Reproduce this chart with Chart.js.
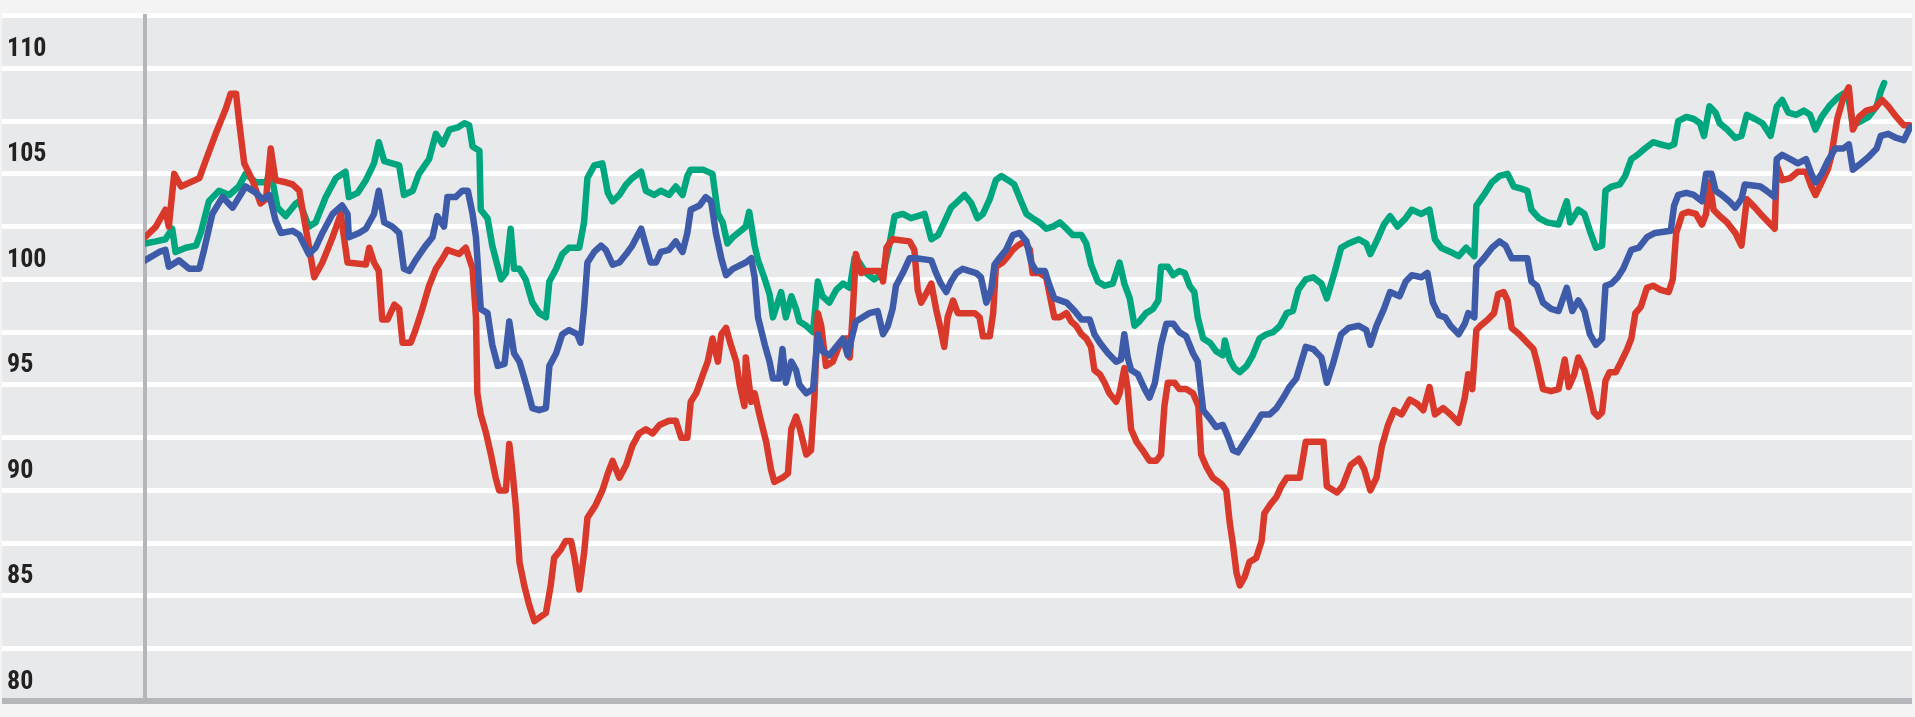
<!DOCTYPE html>
<html>
<head>
<meta charset="utf-8">
<script src="https://cdn.jsdelivr.net/npm/chart.js"></script>
<style>
html, body { margin: 0; padding: 0; background: #f4f4f4; }
canvas { display: block; }
</style>
</head>
<body>
<canvas id="myChart" width="1915" height="717"></canvas>
<script>
// labelled ticks on the value axis (gridlines every 2.5)
const yLabels = [80, 85, 90, 95, 100, 105, 110];

// [trading day, index value]
const redSeries = [
  [0,102.0],[1.6,102.5],[3.0,103.3],[3.5,102.5],[4.3,105.0],[5.3,104.4],[8.0,104.8],[8.9,105.6],[10.4,106.9],[11.9,108.1],
  [12.6,108.8],[13.4,108.8],[13.8,107.6],[14.6,105.5],[15.8,104.7],[17.0,103.6],[17.8,103.8],[18.5,106.2],[19.2,104.7],[20.7,104.6],
  [21.7,104.5],[22.7,104.2],[24.1,101.6],[24.9,100.1],[26.1,100.8],[27.6,102.0],[28.8,103.1],[29.8,100.8],[32.5,100.7],[33.0,101.5],
  [33.7,100.8],[34.4,100.4],[34.9,98.1],[35.7,98.1],[36.7,98.8],[37.4,98.6],[37.9,97.0],[39.1,97.0],[39.8,97.6],[40.8,98.6],
  [41.8,99.7],[42.8,100.5],[43.8,101.0],[44.5,101.4],[46.2,101.2],[47.2,101.5],[48.2,100.5],[48.7,98.2],[48.9,94.6],[49.4,93.6],
  [50.2,92.7],[50.9,91.7],[51.6,90.6],[52.1,90.0],[53.1,90.0],[53.6,92.2],[54.1,90.8],[54.6,89.1],[55.1,86.6],[55.8,85.5],
  [56.5,84.6],[57.3,83.8],[59.0,84.2],[59.7,85.5],[60.2,86.8],[61.2,87.2],[61.9,87.6],[62.7,87.6],[63.2,86.8],[63.9,85.3],
  [64.6,87.0],[65.1,88.7],[66.3,89.3],[67.3,90.0],[68.1,90.8],[68.8,91.4],[69.8,90.6],[70.8,91.2],[71.7,92.1],[72.7,92.7],
  [73.7,92.9],[74.7,92.7],[75.7,93.1],[77.1,93.3],[78.1,93.3],[78.9,92.5],[79.8,92.5],[80.3,94.2],[81.1,94.6],[82.1,95.5],
  [82.8,96.1],[83.5,97.2],[84.3,96.1],[84.8,97.4],[85.5,97.7],[86.2,96.9],[87.0,96.1],[87.5,95.0],[88.2,94.0],[88.4,96.3],
  [89.2,94.2],[89.7,94.6],[90.4,93.6],[91.4,92.3],[92.1,91.0],[92.6,90.4],[93.8,90.6],[94.6,90.8],[95.1,92.9],[95.8,93.5],
  [96.3,93.0],[97.3,91.7],[98.0,91.9],[98.5,94.4],[99.0,98.4],[99.5,97.8],[100.2,95.9],[101.2,96.1],[102.2,96.9],[103.2,97.2],
  [103.7,96.3],[104.1,98.2],[104.6,101.2],[105.4,100.3],[106.1,100.4],[108.1,100.4],[108.6,99.9],[109.1,101.5],[110.0,101.9],[112.5,101.8],
  [113.2,101.4],[113.7,99.5],[114.2,98.9],[114.9,99.3],[115.7,99.8],[116.4,98.6],[117.1,97.6],[117.6,96.8],[118.1,98.2],[118.9,99.0],
  [119.6,98.4],[122.1,98.4],[122.8,98.2],[123.3,97.3],[124.3,97.3],[124.8,98.4],[125.2,100.6],[126.2,100.8],[127.0,101.1],[127.7,101.4],
  [128.4,101.6],[129.4,101.8],[130.2,101.4],[130.6,100.3],[131.6,100.3],[132.6,100.1],[133.1,99.3],[133.8,98.2],[134.6,98.2],[135.6,98.4],
  [136.3,98.0],[137.0,97.8],[137.8,97.4],[138.5,97.2],[139.2,96.8],[139.7,95.7],[140.5,95.5],[141.2,95.1],[141.9,94.6],[142.9,94.2],
  [143.4,94.6],[144.1,95.8],[144.6,94.8],[145.1,92.9],[145.9,92.3],[146.8,91.9],[147.8,91.4],[148.8,91.4],[149.5,91.7],[150.0,94.0],
  [150.5,95.1],[151.5,95.1],[152.2,94.8],[153.2,94.8],[154.2,94.6],[155.0,94.0],[155.4,91.7],[156.2,91.1],[157.1,90.6],[158.4,90.3],
  [159.1,90.0],[159.6,88.5],[160.1,87.4],[160.6,86.1],[161.1,85.5],[161.8,85.9],[162.5,86.6],[163.5,86.8],[164.3,87.6],[164.7,88.9],
  [165.5,89.3],[166.5,89.7],[167.2,90.2],[168.0,90.6],[168.9,90.6],[169.9,90.6],[170.8,92.3],[173.4,92.3],[173.9,90.2],[175.4,89.9],
  [176.2,90.2],[177.4,91.2],[178.6,91.5],[179.4,91.0],[180.3,90.0],[181.2,90.6],[182.0,92.1],[182.9,93.1],[183.8,93.8],[184.9,93.6],
  [186.1,94.3],[187.2,94.1],[188.1,93.8],[189.0,94.9],[189.8,93.6],[191.0,93.9],[192.1,93.6],[193.3,93.2],[194.2,94.4],[194.7,95.5],
  [195.3,94.8],[195.9,97.6],[196.5,97.8],[197.6,98.1],[198.5,98.4],[199.1,99.3],[199.9,99.4],[200.5,99.0],[201.1,97.7],[202.2,97.4],
  [203.4,97.0],[204.3,96.7],[204.8,96.1],[205.7,94.8],[206.9,94.7],[208.0,94.8],[208.9,96.2],[209.5,94.9],[210.3,95.5],[210.9,96.3],
  [211.8,95.7],[212.6,94.6],[213.2,93.7],[213.8,93.5],[214.4,93.7],[214.9,95.2],[215.5,95.6],[216.4,95.6],[217.2,96.1],[218.1,96.7],
  [218.7,97.2],[219.3,98.4],[220.1,98.7],[221.0,99.6],[221.9,99.7],[223.0,99.5],[224.2,99.4],[224.8,100.0],[225.3,102.2],[226.2,103.1],
  [227.1,103.2],[228.2,103.1],[229.1,102.6],[229.7,103.1],[230.2,104.6],[230.8,103.3],[231.7,103.0],[232.8,102.7],[234.0,102.2],[234.9,101.6],
  [235.7,103.8],[236.9,103.4],[238.0,103.0],[239.2,102.6],[239.8,102.4],[240.1,105.4],[240.9,104.7],[242.1,104.8],[243.2,105.1],[244.4,105.1],
  [245.2,104.4],[245.8,104.0],[246.7,104.6],[247.6,105.2],[248.1,105.8],[249.0,107.6],[249.9,108.6],[250.7,109.1],[251.3,107.1],[252.2,107.7],
  [253.3,108.0],[254.5,108.1],[255.6,108.5],[256.5,108.2],[257.7,107.7],[258.8,107.3],[259.7,107.3]
];

const blueSeries = [
  [0,100.9],[2.1,101.3],[3.0,101.4],[3.5,100.6],[5.0,100.9],[6.5,100.5],[8.0,100.5],[8.7,101.4],[9.9,103.1],[11.4,103.9],
  [12.9,103.4],[14.8,104.4],[16.3,104.1],[17.3,103.8],[18.3,104.0],[19.2,102.8],[20.0,102.2],[21.7,102.3],[22.7,102.1],[24.1,101.2],
  [25.1,101.5],[26.1,102.2],[27.6,103.1],[29.0,103.5],[29.8,103.1],[30.0,102.0],[31.5,102.2],[32.5,102.4],[33.7,103.1],[34.4,104.2],
  [35.2,102.7],[36.4,102.5],[37.4,102.2],[38.1,100.5],[38.9,100.4],[39.8,100.9],[41.3,101.6],[42.3,102.0],[43.0,103.0],[44.0,102.5],
  [44.5,103.9],[45.7,103.9],[46.7,104.2],[47.5,104.2],[48.2,103.1],[48.7,102.0],[49.4,98.6],[50.4,98.4],[51.1,96.9],[51.9,95.9],
  [52.9,96.0],[53.6,98.0],[54.3,96.5],[55.1,96.1],[56.1,95.0],[57.0,93.9],[58.0,93.8],[59.0,93.9],[59.5,95.9],[60.5,96.5],
  [61.4,97.4],[62.4,97.6],[63.6,97.4],[64.1,97.0],[64.6,98.6],[65.1,100.8],[66.1,101.3],[67.1,101.6],[67.8,101.4],[68.8,100.7],
  [69.8,100.8],[70.8,101.2],[71.7,101.6],[73.0,102.4],[73.7,101.6],[74.4,100.8],[75.2,100.8],[75.9,101.3],[77.1,101.4],[78.1,101.8],
  [79.1,101.3],[79.8,102.2],[80.3,103.3],[81.6,103.5],[82.5,103.9],[83.3,103.7],[84.0,102.2],[84.8,101.0],[85.5,100.2],[86.5,100.5],
  [88.4,100.8],[89.2,101.0],[89.7,100.1],[90.2,98.2],[91.2,96.9],[91.9,96.1],[92.4,95.3],[93.3,95.3],[93.8,96.7],[94.3,95.1],
  [95.1,96.1],[95.8,95.7],[96.3,95.0],[97.3,94.6],[98.3,94.8],[99.0,97.4],[99.7,96.6],[100.7,96.4],[101.7,96.8],[102.7,97.2],
  [103.4,96.4],[103.9,97.1],[104.6,98.0],[105.6,98.2],[106.6,98.4],[107.8,98.5],[108.6,97.4],[109.3,97.8],[110.0,98.6],[110.5,99.7],
  [111.5,100.3],[112.5,101.0],[113.5,101.0],[115.7,100.9],[116.4,100.3],[117.1,99.8],[117.9,99.4],[118.6,99.9],[119.4,100.3],[120.3,100.5],
  [122.3,100.3],[123.0,100.1],[123.8,98.9],[124.5,99.5],[125.0,100.7],[125.7,101.0],[126.7,101.4],[127.7,102.1],[128.7,102.2],[129.7,101.8],
  [130.4,100.8],[131.1,100.4],[132.4,100.4],[133.1,99.7],[133.8,99.1],[135.6,98.9],[136.8,98.5],[137.8,98.1],[139.0,98.1],[139.7,97.4],
  [140.5,97.0],[141.7,96.5],[142.9,96.1],[143.6,96.2],[144.1,97.4],[144.6,96.3],[145.1,95.7],[146.1,95.5],[147.1,94.8],[147.8,94.4],
  [148.6,95.1],[149.5,96.9],[150.3,97.9],[151.3,97.9],[152.2,97.5],[153.2,97.3],[154.2,96.5],[154.9,96.1],[155.7,93.8],[156.7,93.4],
  [157.6,93.0],[158.6,93.1],[159.4,92.5],[160.1,91.9],[160.8,91.8],[161.8,92.3],[163.0,92.9],[164.3,93.6],[165.5,93.6],[166.5,93.9],
  [167.5,94.4],[168.4,94.9],[169.4,95.3],[170.8,96.8],[171.9,96.7],[173.1,96.3],[173.9,95.1],[174.8,96.0],[176.0,97.4],[177.1,97.7],
  [178.6,97.8],[179.7,97.6],[180.3,96.9],[181.2,97.8],[182.3,98.6],[183.2,99.4],[184.6,99.2],[185.5,99.9],[186.4,100.2],[187.8,100.1],
  [188.7,100.3],[189.5,98.9],[190.4,98.3],[191.3,98.2],[192.1,97.8],[193.3,97.4],[194.2,97.9],[194.7,98.4],[195.6,98.2],[195.9,100.6],
  [197.0,101.0],[198.2,101.5],[199.3,101.8],[200.2,101.6],[201.1,101.0],[203.4,101.0],[204.0,99.9],[204.8,99.7],[205.7,98.9],[206.9,98.6],
  [208.0,98.5],[209.2,99.6],[210.0,98.5],[210.9,99.0],[211.8,98.5],[212.6,97.4],[213.5,96.9],[214.4,97.2],[214.9,99.7],[215.8,99.8],
  [216.7,100.1],[217.5,100.5],[218.7,101.4],[219.8,101.5],[221.0,102.0],[222.2,102.2],[224.5,102.3],[225.0,103.5],[225.6,104.0],[226.8,104.1],
  [227.9,104.0],[229.1,103.7],[229.7,105.0],[230.5,105.0],[231.1,104.2],[232.0,104.0],[233.1,103.7],[234.0,103.4],[234.9,103.8],[235.4,104.5],
  [237.7,104.4],[238.6,104.2],[239.8,103.9],[240.1,105.7],[240.9,105.9],[242.1,105.7],[243.2,105.5],[244.4,105.7],[245.2,105.0],[245.8,104.6],
  [246.7,105.0],[247.6,105.6],[248.7,106.2],[249.9,106.2],[250.7,106.4],[251.3,105.2],[252.5,105.5],[253.6,105.8],[254.8,106.2],[255.4,106.8],
  [256.5,106.9],[257.7,106.7],[258.8,106.6],[259.7,107.2]
];

const greenSeries = [
  [0,101.7],[1.6,101.8],[3.0,101.9],[4.0,102.4],[4.5,101.3],[6.0,101.5],[7.5,101.6],[8.2,102.2],[9.4,103.7],[10.9,104.2],
  [12.4,104.0],[13.8,104.4],[14.8,105.0],[16.3,104.6],[17.8,104.6],[18.5,105.1],[19.5,103.4],[20.7,103.0],[22.2,103.6],[22.7,103.7],
  [24.1,102.5],[25.1,102.7],[26.6,103.9],[28.1,104.8],[29.5,105.1],[30.0,103.9],[31.3,104.1],[32.5,104.7],[33.7,105.5],[34.4,106.5],
  [35.2,105.6],[37.4,105.4],[38.1,104.0],[39.4,104.2],[40.3,105.0],[41.8,105.7],[42.8,106.9],[43.8,106.4],[44.8,107.1],[46.0,107.2],
  [47.0,107.4],[47.7,107.3],[48.2,106.3],[49.2,106.1],[49.4,103.3],[50.4,102.9],[51.1,101.6],[51.9,100.6],[52.4,100.0],[53.1,100.3],
  [53.8,102.4],[54.3,100.5],[55.1,100.5],[56.0,100.0],[57.0,98.9],[58.0,98.4],[59.0,98.2],[59.5,99.9],[60.5,100.5],[61.4,101.2],
  [62.4,101.5],[63.9,101.5],[64.6,102.7],[65.1,104.8],[66.1,105.4],[67.3,105.5],[68.1,104.1],[68.8,103.7],[69.8,104.0],[70.8,104.5],
  [71.7,104.8],[73.0,105.1],[73.7,104.2],[74.9,104.0],[75.9,104.2],[77.1,104.0],[78.1,104.4],[79.1,104.0],[79.8,104.9],[80.3,105.2],
  [82.1,105.2],[83.5,105.0],[84.3,103.1],[85.0,102.7],[85.7,101.7],[86.5,102.0],[88.4,102.5],[88.9,103.2],[89.7,101.6],[90.2,100.9],
  [91.1,100.1],[91.9,99.3],[92.4,98.2],[93.1,98.9],[93.6,99.4],[94.3,98.2],[95.1,99.2],[95.8,98.6],[96.3,98.0],[97.3,97.8],
  [98.3,97.5],[99.0,99.9],[99.7,99.2],[100.7,98.9],[101.7,99.5],[102.7,99.8],[103.7,99.6],[104.4,101.0],[105.1,100.8],[106.1,100.3],
  [107.3,100.0],[108.6,100.3],[109.5,101.6],[110.3,103.0],[111.5,103.1],[112.7,102.9],[113.7,103.0],[114.7,103.1],[115.7,101.9],[116.7,102.1],
  [117.6,102.7],[118.6,103.4],[119.6,103.7],[120.6,104.0],[121.6,103.6],[122.5,102.9],[123.3,103.1],[124.3,103.8],[125.2,104.7],[126.0,104.9],
  [127.0,104.7],[127.9,104.5],[128.9,103.7],[129.7,103.1],[130.6,102.9],[131.6,102.7],[132.6,102.4],[133.6,102.5],[134.6,102.7],[135.6,102.4],
  [136.5,102.1],[137.8,102.1],[138.5,101.7],[139.2,100.7],[140.2,99.9],[141.2,99.7],[142.4,99.8],[143.4,100.8],[144.1,99.8],[144.9,99.1],
  [145.6,97.8],[146.3,98.0],[147.3,98.4],[148.3,98.6],[149.1,99.0],[149.5,100.6],[150.5,100.6],[151.3,100.2],[152.2,100.4],[153.0,100.3],
  [153.7,99.7],[154.4,99.4],[154.9,98.2],[155.7,97.2],[156.7,97.0],[157.6,96.6],[158.6,96.4],[158.9,97.1],[159.6,96.2],[160.3,95.8],
  [161.1,95.6],[162.1,95.9],[163.0,96.4],[164.0,97.2],[165.0,97.4],[166.0,97.5],[167.0,97.8],[168.0,98.4],[168.9,98.5],[169.7,99.5],
  [170.8,100.0],[171.9,100.1],[173.1,99.8],[173.9,99.1],[175.1,100.4],[176.0,101.5],[177.1,101.7],[178.6,101.9],[179.7,101.7],[180.3,101.2],
  [181.2,101.8],[182.3,102.6],[183.2,103.0],[184.3,102.5],[185.5,102.9],[186.4,103.3],[187.8,103.1],[189.0,103.3],[189.8,101.9],[190.7,101.5],
  [192.1,101.3],[193.3,101.1],[194.4,101.5],[195.6,101.1],[195.9,103.5],[197.0,104.0],[198.2,104.6],[199.3,104.9],[200.5,105.0],[201.4,104.4],
  [202.5,104.3],[203.4,104.2],[204.0,103.3],[205.1,102.9],[206.3,102.7],[208.0,102.6],[209.2,103.7],[209.7,102.7],[210.9,103.3],[211.8,103.1],
  [212.6,102.3],[213.5,101.5],[214.4,101.6],[214.9,104.2],[215.8,104.4],[217.0,104.5],[217.8,104.9],[218.7,105.7],[219.6,105.9],[220.7,106.2],
  [221.9,106.5],[223.0,106.4],[224.2,106.3],[225.0,106.4],[225.6,107.5],[226.8,107.7],[227.9,107.6],[228.8,107.4],[229.4,106.8],[230.2,108.2],
  [231.1,107.9],[231.7,107.4],[232.8,107.1],[234.0,106.7],[234.9,106.8],[235.7,107.8],[236.9,107.6],[238.0,107.4],[239.2,106.8],[240.1,108.2],
  [240.9,108.5],[241.8,107.9],[243.0,107.8],[244.1,108.0],[245.0,107.8],[245.8,107.1],[246.7,107.7],[247.8,108.2],[249.0,108.6],[249.9,108.8],
  [250.7,108.5],[251.3,107.3],[252.5,107.5],[253.6,107.7],[254.8,108.2],[255.4,108.9],[255.9,109.3]
];

function toPoints(series) {
  return series.map(p => ({ x: p[0], y: p[1] }));
}

// grey panel behind the plot and the label column
const panelBg = {
  id: 'panelBg',
  beforeDraw(chart) {
    const ctx = chart.ctx;
    const area = chart.chartArea;
    ctx.save();
    ctx.fillStyle = '#f4f4f4';
    ctx.fillRect(0, 0, chart.width, chart.height);
    ctx.fillStyle = '#e8e9eb';
    ctx.fillRect(2, area.top, area.right - 2, area.bottom - area.top);
    ctx.restore();
  }
};

const axisGrey = '#b4b6b9';

const config = {
  type: 'line',
  data: {
    datasets: [
      { data: toPoints(blueSeries), borderColor: '#3e5ba9' },
      { data: toPoints(redSeries), borderColor: '#d8392b' },
      { data: toPoints(greenSeries), borderColor: '#00a67e' }
    ]
  },
  options: {
    responsive: false,
    animation: false,
    devicePixelRatio: 1,
    layout: { padding: { left: 7, top: 11, right: 3, bottom: 3 } },
    plugins: {
      legend: { display: false },
      tooltip: { enabled: false }
    },
    elements: {
      point: { radius: 0 },
      line: { tension: 0, borderWidth: 6.5, borderJoinStyle: 'round', borderCapStyle: 'round' }
    },
    scales: {
      x: { type: 'linear', min: 0, max: 260, display: false },
      y: {
        min: 80,
        max: 112.5,
        afterFit: (scale) => { scale.width = 138; },
        border: { display: true, color: axisGrey, width: 4 },
        grid: {
          color: (ctx) => ctx.tick.value === 80 ? axisGrey : '#ffffff',
          lineWidth: (ctx) => ctx.tick.value === 80 ? 6 : 5,
          drawTicks: true,
          tickLength: 143
        },
        ticks: {
          stepSize: 2.5,
          autoSkip: false,
          crossAlign: 'far',
          labelOffset: -19,
          padding: 0,
          color: '#222222',
          font: { family: '"Roboto Condensed", Roboto, sans-serif', size: 26, weight: 'bold' },
          callback: (value) => yLabels.includes(value) ? String(value) : ''
        }
      }
    }
  },
  plugins: [panelBg]
};

var myChart = new Chart(document.getElementById('myChart'), config);
</script>
</body>
</html>
